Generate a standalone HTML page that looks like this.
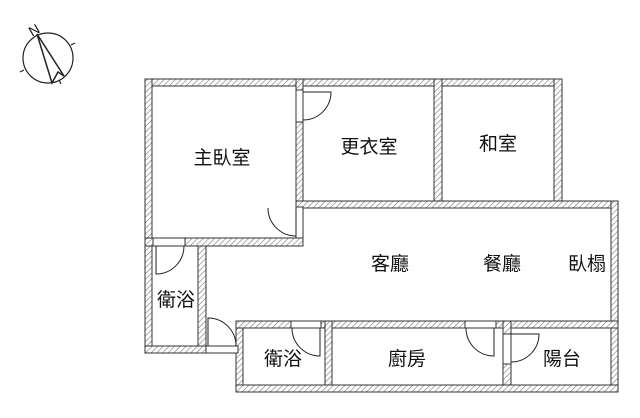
<!DOCTYPE html>
<html><head><meta charset="utf-8"><style>
html,body{margin:0;padding:0;background:#fff;}
svg{display:block;}
text{font-family:"Liberation Sans","Noto Sans CJK TC",sans-serif;font-size:19px;fill:#111;}
</style></head><body>
<svg width="640" height="418" viewBox="0 0 640 418" xmlns="http://www.w3.org/2000/svg">
<defs>
<pattern id="h" patternUnits="userSpaceOnUse" width="4" height="4" patternTransform="rotate(45)">
<rect width="4" height="4" fill="#fff"/><line x1="0" y1="0" x2="0" y2="4" stroke="#777" stroke-width="1.2"/>
</pattern>
</defs>
<g fill="url(#h)" stroke="#333" stroke-width="1">
<rect x="145" y="79" width="417" height="7"/>
<rect x="145" y="79" width="7" height="274"/>
<rect x="296" y="79" width="7" height="167"/>
<rect x="145" y="238" width="158" height="8"/>
<rect x="434" y="79" width="8" height="129"/>
<rect x="554" y="79" width="8" height="129"/>
<rect x="296" y="201" width="322" height="7"/>
<rect x="611" y="201" width="7" height="191"/>
<rect x="198" y="246" width="8" height="107"/>
<rect x="145" y="346" width="98" height="7"/>
<rect x="236" y="321" width="7" height="71"/>
<rect x="236" y="321" width="382" height="7"/>
<rect x="325" y="321" width="7" height="71"/>
<rect x="503" y="321" width="8" height="71"/>
<rect x="236" y="385" width="382" height="7"/>
</g>
<g fill="#fff" stroke="#333" stroke-width="1">
<rect x="296" y="90" width="7" height="32"/>
<rect x="296" y="207" width="7" height="31"/>
<rect x="153" y="238" width="32" height="8"/>
<rect x="206" y="346" width="32" height="7"/>
<rect x="291" y="321" width="30" height="7"/>
<rect x="465" y="321" width="31" height="7"/>
<rect x="503" y="334" width="8" height="30"/>
</g>
<g fill="none" stroke="#222" stroke-width="1">
<path d="M303 92 H331 A28 28 0 0 1 303 120"/>
<path d="M296 208 V236 A28 28 0 0 1 268 208"/>
<path d="M156 246 V274 A28 28 0 0 0 184 246"/>
<path d="M208 346 V318 A28 28 0 0 1 236 346"/>
<path d="M320 328 V356 A28 28 0 0 1 292 328"/>
<path d="M494 328 V356 A28 28 0 0 1 466 328"/>
<path d="M511 334 H539 A28 28 0 0 1 511 362"/>
</g>
<g stroke="#222" fill="none" stroke-width="1.2">
<circle cx="48" cy="58" r="25"/>
<line x1="71" y1="45" x2="75" y2="43"/>
<line x1="24" y1="70" x2="20" y2="72"/>
<line x1="59" y1="80" x2="61" y2="84"/>
<path d="M37 34 L64 76 L58 72 L52 83 Z" fill="#fff" stroke-width="1.5"/>
</g>
<text x="34" y="35" text-anchor="middle" style="font-size:14px" transform="rotate(-30 34 30)">N</text>
<text x="222" y="164" text-anchor="middle">主臥室</text>
<text x="369" y="153" text-anchor="middle">更衣室</text>
<text x="498" y="150" text-anchor="middle">和室</text>
<text x="390" y="270" text-anchor="middle">客廳</text>
<text x="502" y="270" text-anchor="middle">餐廳</text>
<text x="587" y="270" text-anchor="middle">臥榻</text>
<text x="176" y="306" text-anchor="middle">衛浴</text>
<text x="283" y="365" text-anchor="middle">衛浴</text>
<text x="407" y="365" text-anchor="middle">廚房</text>
<text x="562" y="365" text-anchor="middle">陽台</text>
</svg>
</body></html>
